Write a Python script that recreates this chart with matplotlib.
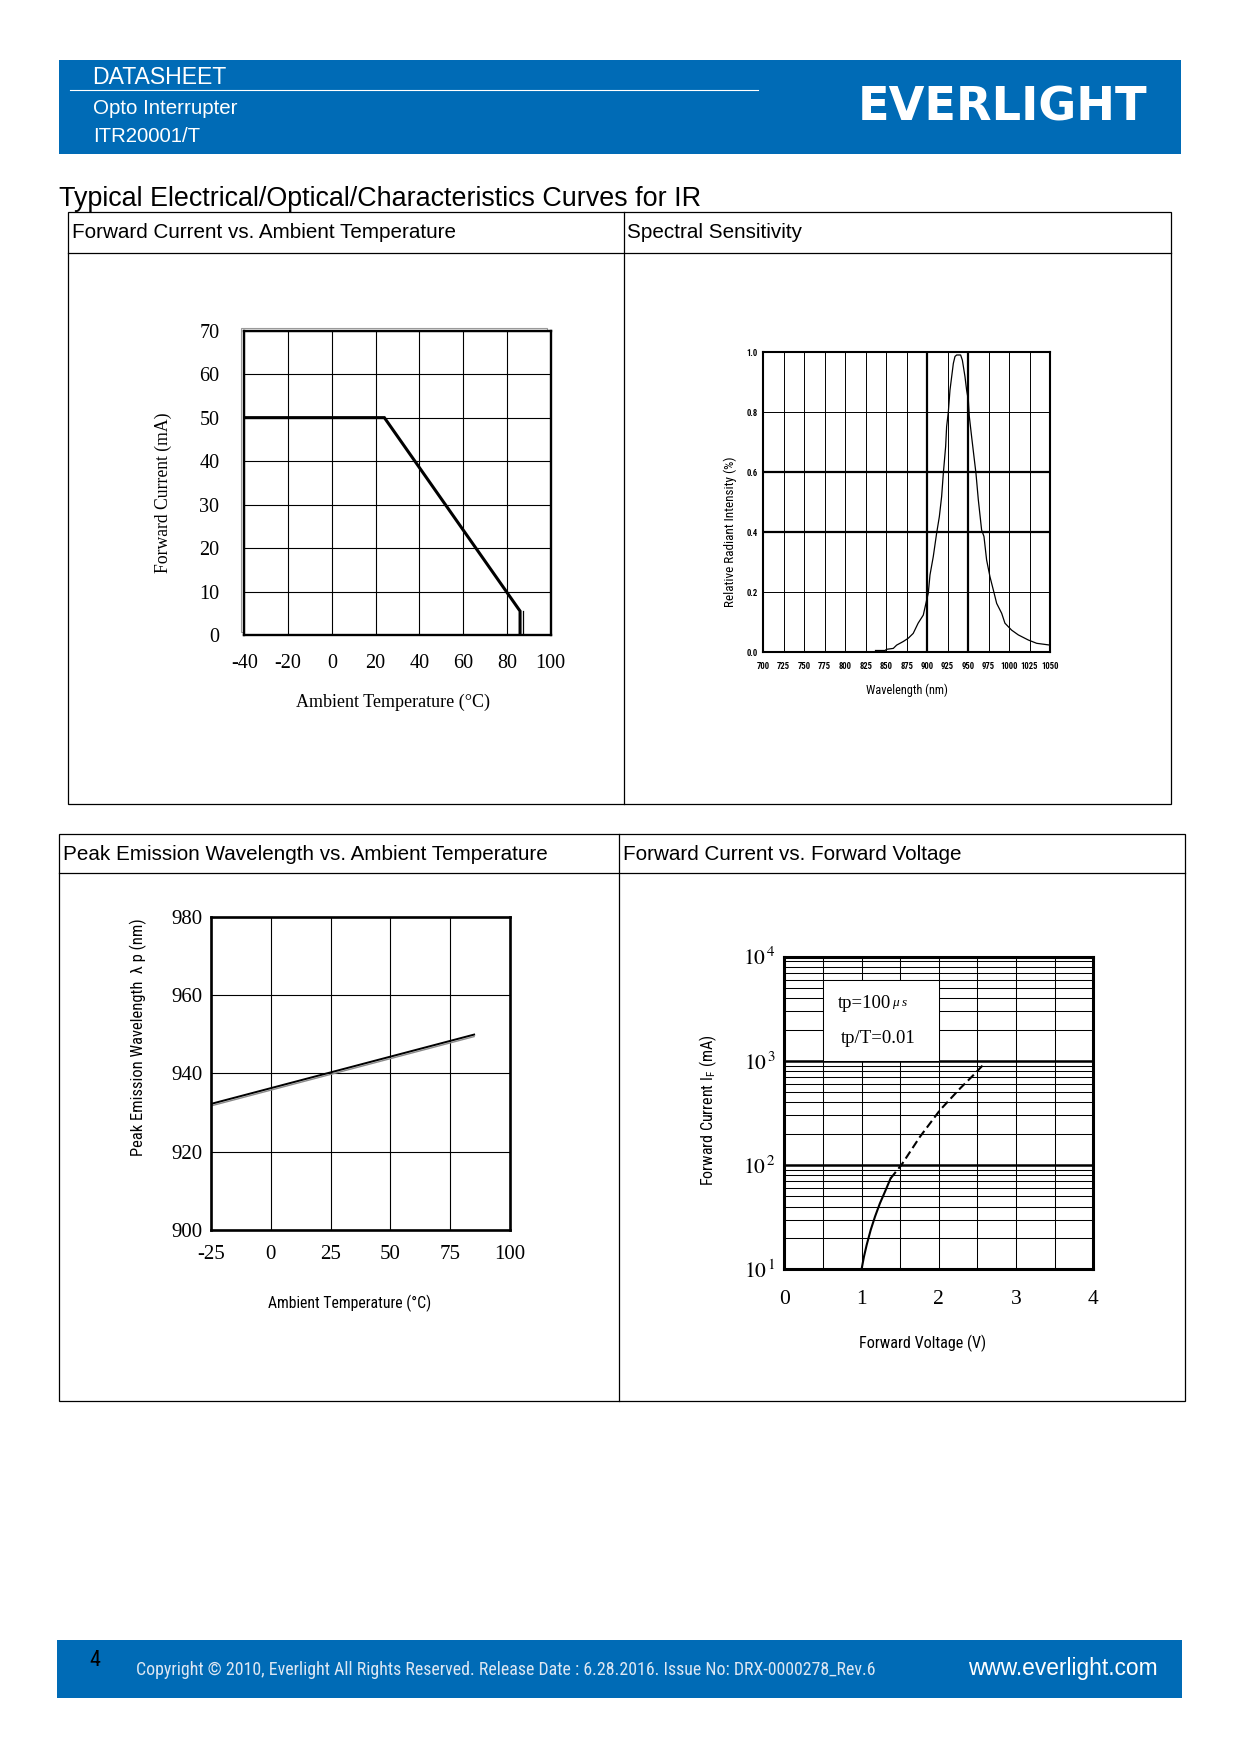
import matplotlib
matplotlib.use("Agg")
import matplotlib.pyplot as plt
from matplotlib import font_manager
from matplotlib.patches import Rectangle
from matplotlib.ticker import MultipleLocator, LogLocator, NullFormatter
from matplotlib.transforms import offset_copy

# ---- values ----
# Forward current vs ambient temperature (derating)
derate_temp = [-40, 24, 86, 86]
derate_if = [50, 50, 5.5, 0]
derate_xticks = [-40, -20, 0, 20, 40, 60, 80, 100]
derate_yticks = [0, 10, 20, 30, 40, 50, 60, 70]

# Spectral sensitivity
spec_wl = [837, 848.5, 850.6, 858.7, 862.8, 870.9, 877, 883, 889, 895.3, 899.4, 901.4,
           903.5, 907.5, 911.6, 914.9, 917.7, 919.8, 922.6, 923.8, 925.9, 927.9, 932, 934,
           936, 940.9, 943, 946.2, 948.2, 950.3, 951.5, 954.3, 957.2, 959.6, 962.5, 966.5,
           969.4, 972.6, 976.7, 980.8, 984.9, 991, 995, 1003.1, 1011.3, 1023.5, 1033.7, 1050]
spec_rel = [0.006, 0.006, 0.010, 0.013, 0.024, 0.036, 0.047, 0.063, 0.097, 0.124, 0.174, 0.197,
            0.258, 0.319, 0.397, 0.452, 0.519, 0.597, 0.686, 0.752, 0.802, 0.874, 0.963, 0.986,
            0.991, 0.991, 0.974, 0.919, 0.874, 0.841, 0.786, 0.719, 0.652, 0.597, 0.508, 0.408,
            0.386, 0.308, 0.252, 0.208, 0.163, 0.130, 0.097, 0.074, 0.058, 0.041, 0.030, 0.024]
spec_xticks = [700, 725, 750, 775, 800, 825, 850, 875, 900, 925, 950, 975, 1000, 1025, 1050]
spec_yticks = [0.0, 0.2, 0.4, 0.6, 0.8, 1.0]

# Peak emission wavelength vs ambient temperature
peak_temp = [-25, 85]
peak_wl = [932.2, 949.9]
peak_xticks = [-25, 0, 25, 50, 75, 100]
peak_yticks = [900, 920, 940, 960, 980]

# Forward current vs forward voltage (solid part, then dashed part)
fv_v_solid = [1.0, 1.031, 1.066, 1.118, 1.174, 1.238, 1.303, 1.376]
fv_i_solid = [10, 13.2, 17.1, 23.8, 32, 43, 55.5, 74.5]
fv_v_dash = [1.376, 1.519, 1.756, 2.015, 2.274, 2.447, 2.598]
fv_i_dash = [74.5, 101, 187, 337, 543, 729, 955]
fv_xticks = [0, 1, 2, 3, 4]
fv_yticks = [10, 100, 1000, 10000]
fv_yticklabels = [r"$10^{\,1}$", r"$10^{\,2}$", r"$10^{\,3}$", r"$10^{\,4}$"]

# ---- fonts ----
installed = {f.name for f in font_manager.fontManager.ttflist}
SANS = "Liberation Sans"
SERIF = "Liberation Serif"
NARROW = next((n for n in ["Liberation Sans Narrow", "Arial Narrow", "Roboto Condensed",
                           "Open Sans Condensed"] if n in installed), SANS)
plt.rcParams["mathtext.fontset"] = "stix"

W, H = 1240, 1754
BLUE = "#006bb6"
fig = plt.figure(figsize=(W / 100, H / 100), dpi=100)
fig.patch.set_facecolor("white")

# page axes in pixel coordinates (y down)
pg = fig.add_axes([0, 0, 1, 1])
pg.set_xlim(0, W)
pg.set_ylim(H, 0)
pg.axis("off")


def fit(t, size):
    # scale the font so that the text is `size` pixels long
    r = fig.canvas.get_renderer()
    bb = t.get_window_extent(r)
    t.set_fontsize(t.get_fontsize() * size / max(bb.width, bb.height))
    return t


def px_axes(x0, y0, x1, y1):
    return fig.add_axes([x0 / W, 1 - y1 / H, (x1 - x0) / W, (y1 - y0) / H])


# header band
pg.add_patch(Rectangle((59, 60), 1122, 94, color=BLUE, lw=0))
pg.plot([70, 758], [89.5, 89.5], color="white", lw=0.8)
fit(pg.text(91.7, 78, "DATASHEET", color="white", family=SANS, va="center", fontsize=15), 135)
fit(pg.text(92.8, 108, "Opto Interrupter", color="white", family=SANS, va="center", fontsize=14), 146)
fit(pg.text(92.8, 137, "ITR20001/T", color="white", family=SANS, va="center", fontsize=14), 108)
fit(pg.text(857.6, 108, "EVERLIGHT", color="white", family="DejaVu Sans", weight="bold",
            va="center", fontsize=30), 290)

fit(pg.text(59.3, 199, "Typical Electrical/Optical/Characteristics Curves for IR",
            family=SANS, va="center", fontsize=16), 644)

# table frames
pg.add_patch(Rectangle((68.3, 212.4), 1103, 591.3, fill=False, ec="k", lw=0.9))
pg.plot([68.3, 1171.3], [252.7, 252.7], color="k", lw=0.9)
pg.plot([623.7, 623.7], [212.4, 803.7], color="k", lw=0.9)
pg.add_patch(Rectangle((59.3, 834.3), 1126, 566.7, fill=False, ec="k", lw=0.9))
pg.plot([59.3, 1185.3], [873.2, 873.2], color="k", lw=0.9)
pg.plot([619.4, 619.4], [834.3, 1401], color="k", lw=0.9)

hdr = fit(pg.text(71.6, 232.5, "Forward Current vs. Ambient Temperature", family=SANS,
                  va="center", fontsize=14), 387)
hs = hdr.get_fontsize()
pg.text(627.3, 232.5, "Spectral Sensitivity", family=SANS, va="center", fontsize=hs)
pg.text(62.6, 854.5, "Peak Emission Wavelength vs. Ambient Temperature", family=SANS,
        va="center", fontsize=hs)
pg.text(622.8, 854.5, "Forward Current vs. Forward Voltage", family=SANS, va="center", fontsize=hs)

# footer band
pg.add_patch(Rectangle((57, 1640), 1125, 58, color=BLUE, lw=0))
pg.text(89.5, 1661, "4", family=NARROW, va="center", fontsize=16, color="black")
fit(pg.text(136.4, 1670, "Copyright \u00a9 2010, Everlight All Rights Reserved. Release Date : "
            "6.28.2016. Issue No: DRX-0000278_Rev.6", family=NARROW, va="center",
            fontsize=10.5, color="#dde7f3"), 747)
fit(pg.text(968.3, 1668, "www.everlight.com", family=SANS, va="center", fontsize=15,
            color="white"), 191)


def style(ax, frame_lw):
    for s in ax.spines.values():
        s.set_linewidth(frame_lw)
    ax.tick_params(which="both", length=0)
    ax.set_axisbelow(True)


# ---- chart 1: forward current vs ambient temperature ----
pg.add_patch(Rectangle((241, 327.5), 306.4, 304.3, fill=False, ec="#9a9a9a", lw=0.8))
ax1 = px_axes(244.3, 330.7, 550.7, 635)
ax1.set_xlim(-40, 100)
ax1.set_ylim(0, 70)
ax1.set_xticks(derate_xticks)
ax1.set_xticklabels([str(v) for v in derate_xticks])
ax1.set_yticks(derate_yticks)
ax1.set_yticklabels([str(v) for v in derate_yticks])
style(ax1, 1.7)
ax1.grid(True, color="k", lw=0.8)
ax1.tick_params(axis="x", pad=14)
ax1.tick_params(axis="y", pad=18)
for lab in ax1.get_xticklabels() + ax1.get_yticklabels():
    lab.set_family(SERIF)
    lab.set_fontsize(14.5)
ax1.plot(derate_temp, derate_if, color="k", lw=2.2, solid_joinstyle="miter")
ax1.plot(derate_temp[2:], derate_if[2:], color="k", lw=0.9,
         transform=offset_copy(ax1.transData, fig=fig, x=3, y=0, units="dots"))
fit(pg.text(163, 493, "Forward Current (mA)", family=SERIF, rotation=90, ha="center",
            va="center", fontsize=14), 162)
fit(pg.text(393, 702, "Ambient Temperature (\u00b0C)", family=SERIF, ha="center",
            va="center", fontsize=14), 195)

# ---- chart 2: spectral sensitivity ----
ax2 = px_axes(763.3, 352.3, 1050, 652.3)
ax2.set_xlim(700, 1050)
ax2.set_ylim(0, 1)
ax2.set_xticks(spec_xticks)
ax2.set_xticklabels([str(v) for v in spec_xticks])
ax2.set_yticks(spec_yticks)
ax2.set_yticklabels(["%.1f" % v for v in spec_yticks])
style(ax2, 1.5)
ax2.grid(True, color="k", lw=0.7)
for v in (900, 950):
    ax2.axvline(v, color="k", lw=1.6, zorder=0.6)
for v in (0.4, 0.6):
    ax2.axhline(v, color="k", lw=1.6, zorder=0.6)
ax2.tick_params(axis="x", pad=7)
ax2.tick_params(axis="y", pad=4)
for lab in ax2.get_xticklabels() + ax2.get_yticklabels():
    lab.set_family(NARROW)
    lab.set_weight("bold")
    lab.set_fontsize(6.2)
ax2.plot(spec_wl, spec_rel, color="k", lw=0.9)
fit(pg.text(730, 532, "Relative Radiant Intensity (%)", family=NARROW, rotation=90,
            ha="center", va="center", fontsize=8), 150)
fit(pg.text(906.7, 690, "Wavelength (nm)", family=NARROW, ha="center", va="center",
            fontsize=8), 82)

# ---- chart 3: peak emission wavelength vs ambient temperature ----
ax3 = px_axes(211, 916.7, 510, 1230)
ax3.set_xlim(-25, 100)
ax3.set_ylim(900, 980)
ax3.set_xticks(peak_xticks)
ax3.set_xticklabels([str(v) for v in peak_xticks])
ax3.set_yticks(peak_yticks)
ax3.set_yticklabels([str(v) for v in peak_yticks])
style(ax3, 1.9)
ax3.grid(True, color="k", lw=0.8)
ax3.tick_params(axis="x", pad=11)
ax3.tick_params(axis="y", pad=6)
for lab in ax3.get_xticklabels() + ax3.get_yticklabels():
    lab.set_family(SERIF)
    lab.set_fontsize(15)
ax3.plot(peak_temp, peak_wl, color="#8a8a8a", lw=1.0,
         transform=offset_copy(ax3.transData, fig=fig, x=0, y=-2, units="dots"))
ax3.plot(peak_temp, peak_wl, color="k", lw=1.4)
fit(pg.text(138, 1037, "Peak Emission Wavelength  \u03bb p (nm)", family=NARROW, rotation=90,
            ha="center", va="center", fontsize=12), 237)
fit(pg.text(350, 1303, "Ambient Temperature (\u00b0C)", family=NARROW, ha="center",
            va="center", fontsize=12), 163)

# ---- chart 4: forward current vs forward voltage ----
ax4 = px_axes(784.3, 956.7, 1093.3, 1269.3)
ax4.set_yscale("log")
ax4.set_xlim(0, 4)
ax4.set_ylim(10, 10000)
ax4.set_xticks(fv_xticks)
ax4.set_xticklabels([str(v) for v in fv_xticks])
ax4.xaxis.set_minor_locator(MultipleLocator(0.5))
ax4.set_yticks(fv_yticks)
ax4.set_yticklabels(fv_yticklabels)
ax4.yaxis.set_minor_locator(LogLocator(base=10, subs=range(2, 10)))
ax4.yaxis.set_minor_formatter(NullFormatter())
style(ax4, 2.2)
ax4.grid(True, which="minor", color="k", lw=0.75)
ax4.grid(True, which="major", axis="x", color="k", lw=0.75)
ax4.grid(True, which="major", axis="y", color="k", lw=1.8)
ax4.tick_params(axis="x", pad=15)
ax4.tick_params(axis="y", pad=6)
for lab in ax4.get_xticklabels() + ax4.get_yticklabels():
    lab.set_family(SERIF)
    lab.set_fontsize(15.5)
ax4.add_patch(Rectangle((0.5, 1000), 1.5, 5000, facecolor="white", edgecolor="k",
                        lw=0.75, zorder=1.5))
ax4.text(1.377, 3570, "tp=100", family=SERIF, fontsize=13.5, ha="right", va="center", zorder=4)
ax4.text(1.39, 3570, "\u03bc s", family=SERIF, fontsize=9.5, style="italic", ha="left",
         va="center", zorder=4)
ax4.text(1.21, 1650, "tp/T=0.01", family=SERIF, fontsize=13.5, ha="center", va="center", zorder=4)
ax4.plot(fv_v_solid, fv_i_solid, color="k", lw=1.5, zorder=3)
ax4.plot(fv_v_dash, fv_i_dash, color="k", lw=1.5, linestyle=(0, (4, 2)), zorder=3)
fit(pg.text(708, 1110, "Forward Current I$_\\mathregular{F}$ (mA)", family=NARROW, rotation=90,
            ha="center", va="center", fontsize=12), 151)
fit(pg.text(923, 1343, "Forward Voltage (V)", family=NARROW, ha="center", va="center",
            fontsize=12), 127)

fig.savefig("out.png", dpi=100, facecolor="white")
